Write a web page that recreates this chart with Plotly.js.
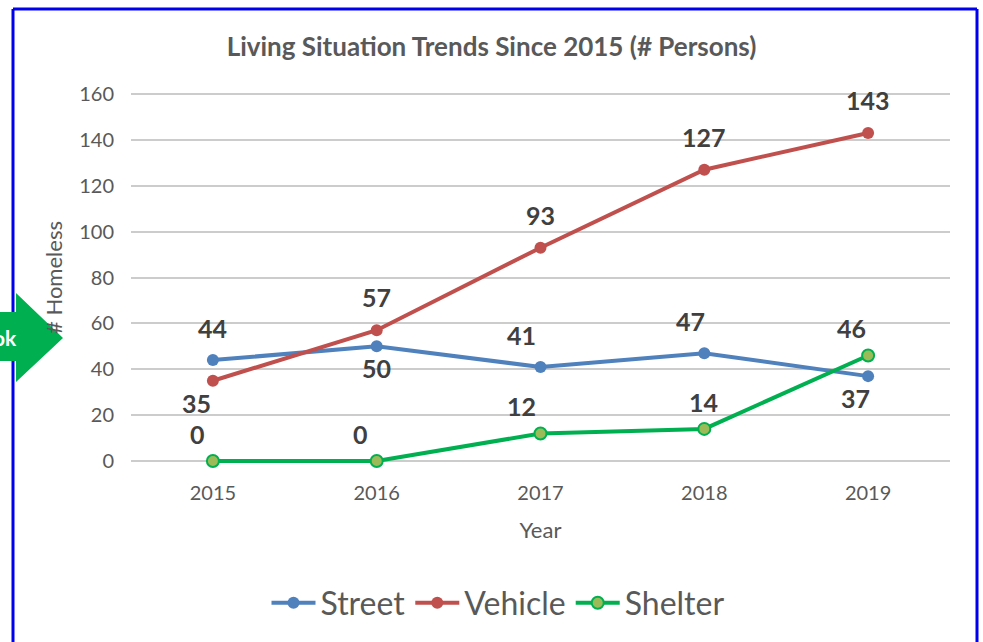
<!DOCTYPE html>
<html>
<head>
<meta charset="utf-8">
<script src="https://cdn.plot.ly/plotly-3.0.1.min.js"></script>
<style>
html,body{margin:0;padding:0;background:#fff;}
#chart{width:983px;height:642px;}
</style>
</head>
<body>
<div id="chart"></div>
<script>
// ---- data ----
const years = ['2015', '2016', '2017', '2018', '2019'];
const street = [44, 50, 41, 47, 37];
const vehicle = [35, 57, 93, 127, 143];
const shelter = [0, 0, 12, 14, 46];
const seriesNames = ['Street', 'Vehicle', 'Shelter'];
// label placement (above/below the point) per series
const streetLabelPos = ['above', 'below', 'above', 'above', 'below'];
const vehicleLabelPos = ['below', 'above', 'above', 'above', 'above'];
const shelterLabelPos = ['above', 'above', 'above', 'above', 'above'];
const streetLabelDx = [0, 0, -19, -14, -13];
const vehicleLabelDx = [-16, 0, 0, 0, 0];
const shelterLabelDx = [-15, -16, -19, -1, -17];

// ---- layout helpers ----
const L = 131, R = 950, T = 94, B = 461, PAD = 3;
const W = 983, H = 642;
const YMIN = 0, YMAX = 160;
const unitPx = (B - T) / (YMAX - YMIN);
const px = x => (x - L) / (R - L);
const py = y => ((B + PAD) - y) / ((B + PAD) - (T - PAD));

const colors = {street: '#4f81bd', vehicle: '#c0504d', shelter: '#00b050', shelterFill: '#9bbb59'};

function trace(name, y, color, fill) {
  return {
    type: 'scatter', mode: 'lines+markers', name: name,
    x: years, y: y, cliponaxis: false,
    line: {color: color, width: 4},
    marker: {size: 12, color: fill || color, line: {color: color, width: fill ? 2 : 0}},
    hoverinfo: 'skip'
  };
}

const data = [
  trace(seriesNames[0], street, colors.street),
  trace(seriesNames[1], vehicle, colors.vehicle),
  trace(seriesNames[2], shelter, colors.shelter, colors.shelterFill)
];

const annotations = [];
function addLabels(vals, pos, dx, upShift) {
  vals.forEach((v, i) => {
    annotations.push({
      x: i, y: v, xref: 'x', yref: 'y', text: '<b>' + v + '</b>', showarrow: false,
      xanchor: 'center', yanchor: 'middle',
      yshift: pos[i] === 'above' ? upShift : -22, xshift: dx[i],
      font: {family: 'Lato, sans-serif', size: 25, color: '#404040'}
    });
  });
}
addLabels(street, streetLabelPos, streetLabelDx, 32);
addLabels(vehicle, vehicleLabelPos, vehicleLabelDx, 33);
addLabels(shelter, shelterLabelPos, shelterLabelDx, 27);

// "ok" on the arrow overlay
annotations.push({
  xref: 'paper', yref: 'paper', x: px(19), y: py(337), xanchor: 'right', yanchor: 'middle',
  text: '<b>ok</b>', showarrow: false,
  font: {family: 'Lato, sans-serif', size: 21, color: '#ffffff'}
});

const shapes = [
  // blue frame
  {type: 'line', xref: 'paper', yref: 'paper', x0: px(13), x1: px(13), y0: py(9), y1: py(660), line: {color: '#0000ee', width: 3}, layer: 'above'},
  {type: 'line', xref: 'paper', yref: 'paper', x0: px(13), x1: px(977), y0: py(9), y1: py(9), line: {color: '#0000ee', width: 3}, layer: 'above'},
  {type: 'line', xref: 'paper', yref: 'paper', x0: px(977), x1: px(977), y0: py(9), y1: py(660), line: {color: '#0000ee', width: 3}, layer: 'above'},
  // green arrow
  {type: 'path', xref: 'paper', yref: 'paper', layer: 'above',
   path: 'M' + px(-5) + ',' + py(312) + ' L' + px(16) + ',' + py(312) + ' L' + px(16) + ',' + py(293) +
         ' L' + px(63) + ',' + py(338) + ' L' + px(16) + ',' + py(382) + ' L' + px(16) + ',' + py(361) +
         ' L' + px(-5) + ',' + py(361) + ' Z',
   fillcolor: '#00b050', line: {width: 0}}
];

const font = 'Lato, sans-serif';
const layout = {
  width: W, height: H,
  margin: {l: L, r: W - R, t: T - PAD, b: H - B - PAD},
  paper_bgcolor: '#ffffff', plot_bgcolor: '#ffffff',
  font: {family: font, color: '#595959'},
  title: {text: '<b>Living Situation Trends Since 2015 (# Persons)</b>', x: 0.5, xanchor: 'center',
          y: 1 - 47 / H, yanchor: 'middle', font: {family: font, size: 26, color: '#595959'}},
  xaxis: {type: 'category', range: [-0.5, 4.5], showgrid: false, zeroline: false, showline: false,
          ticks: '', tickfont: {family: font, size: 20, color: '#595959'}, ticklabelstandoff: 15,
          title: {text: 'Year', font: {family: font, size: 22, color: '#595959'}, standoff: 19}},
  yaxis: {range: [YMIN - PAD / unitPx, YMAX + PAD / unitPx], tick0: 0, dtick: 20,
          showgrid: true, gridcolor: '#cccccc', gridwidth: 2,
          zeroline: false, showline: false, ticks: '',
          tickfont: {family: font, size: 20, color: '#595959'}, ticklabelstandoff: 16,
          title: {text: '# Homeless', font: {family: font, size: 22, color: '#595959'}, standoff: 10}},
  showlegend: true,
  legend: {orientation: 'h', x: px(498), xanchor: 'center', y: py(603), yanchor: 'middle',
           font: {family: font, size: 32, color: '#595959'}, itemwidth: 44, tracegroupgap: 0},
  shapes: shapes,
  annotations: annotations
};

Plotly.newPlot('chart', data, layout, {displayModeBar: false, staticPlot: true});
</script>
</body>
</html>
